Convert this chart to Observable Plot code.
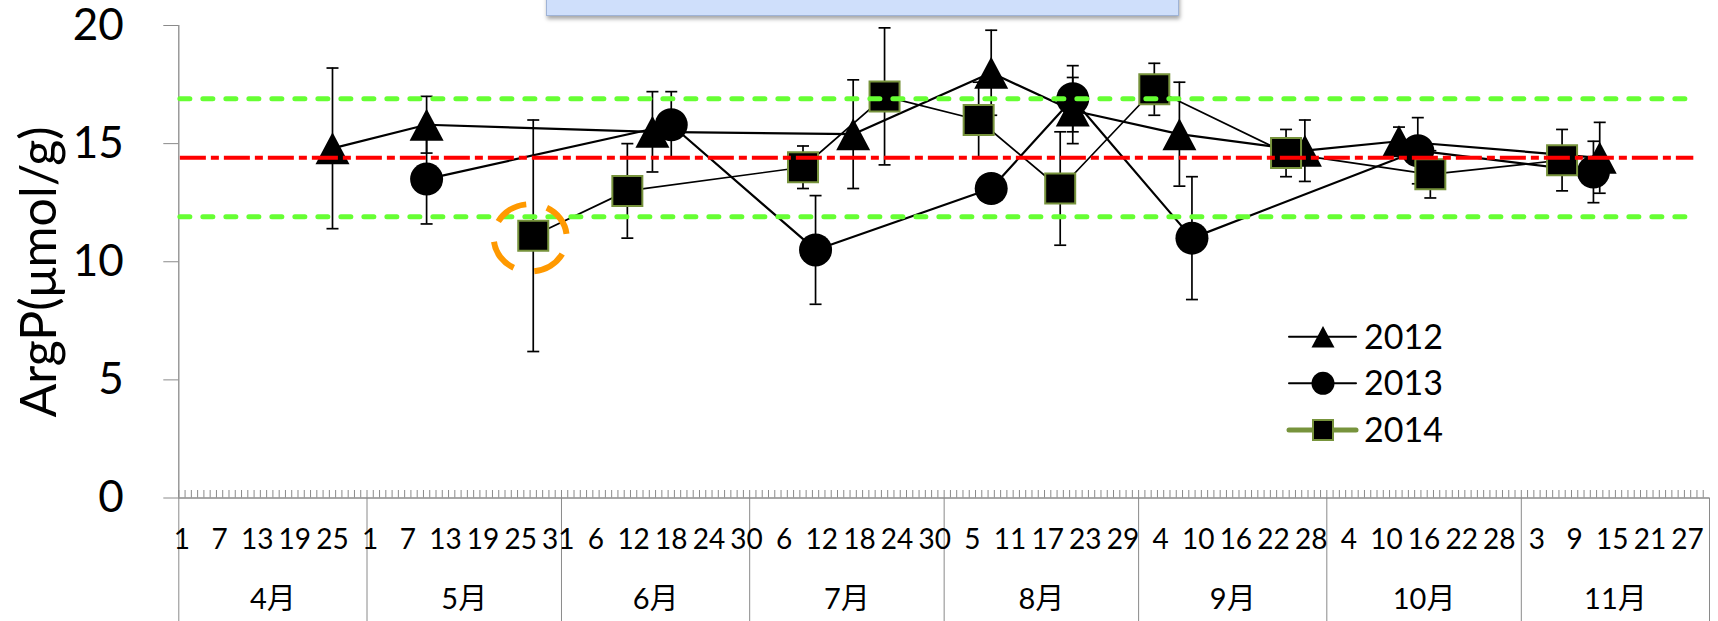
<!DOCTYPE html>
<html>
<head>
<meta charset="utf-8">
<script src="https://cdn.jsdelivr.net/npm/d3@7"></script>
<script src="https://cdn.jsdelivr.net/npm/@observablehq/plot@0.6"></script>
<style>
  body { margin: 0; background: #fff; }
  #wrap { position: relative; width: 1718px; height: 621px; overflow: hidden; background: #fff;
          font-family: Lato, "Noto Sans CJK JP", sans-serif; }
  #chart { position: absolute; left: 0; top: 0; }
  #titlebox { position: absolute; left: 546px; top: -30px; width: 631px; height: 44px;
              background: #cfdffb; border: 1px solid #9fb3d6;
              box-shadow: 1px 3px 4px rgba(0,0,0,0.35); }
  #overlay { position: absolute; left: 0; top: 0; }
</style>
</head>
<body>
<div id="wrap">
  <div id="chart"></div>
  <svg id="overlay" width="1718" height="621"></svg>
  <div id="titlebox"></div>
</div>
<script>
// ---- data: sampling dates (month-day), means and standard deviations ----
const seriesNames = ["2012", "2013", "2014"];

const dates2012 = ["04-25", "05-10", "06-15", "07-17", "08-08", "08-21", "09-07", "09-27", "10-12", "11-13"];
const mean2012  = [14.8, 15.8, 15.5, 15.4, 18.0, 16.4, 15.4, 14.7, 15.1, 14.4];
const sd2012    = [3.4, 1.2, 1.7, 2.3, 1.8, 1.4, 2.2, 1.3, 0.6, 1.5];

const dates2013 = ["05-10", "06-18", "07-11", "08-08", "08-21", "09-09", "10-15", "11-12"];
const mean2013  = [13.5, 15.8, 10.5, 13.1, 16.9, 11.0, 14.7, 13.8];
const sd2013    = [1.9, 1.4, 2.3, 0.6, 1.4, 2.6, 1.4, 1.3];

const dates2014 = ["05-27", "06-11", "07-09", "07-22", "08-06", "08-19", "09-03", "09-24", "10-17", "11-07"];
const mean2014  = [11.1, 13.0, 14.0, 17.0, 16.0, 13.1, 17.3, 14.6, 13.7, 14.3];
const sd2014    = [4.9, 2.0, 0.9, 2.9, 1.6, 2.4, 1.1, 1.0, 1.0, 1.3];

// overall mean and the ± band drawn as dashed reference lines
const overallMean = 14.4;
const bandLines = [11.9, 16.9];
const refLineSpan = ["04-01", "11-28"];

// flagged sample (2014, first sampling)
const flagged = { series: "2014", date: "05-27" };

// axis labels
const yTicks = [0, 5, 10, 15, 20];
const yLabel = "ArgP(μmol/g)";
const monthStarts = ["04-01", "05-01", "06-01", "07-01", "08-01", "09-01", "10-01", "11-01", "12-01"];
const monthNames  = ["4月", "5月", "6月", "7月", "8月", "9月", "10月", "11月"];
const dayTicks = [
  "04-01", "04-07", "04-13", "04-19", "04-25",
  "05-01", "05-07", "05-13", "05-19", "05-25", "05-31",
  "06-06", "06-12", "06-18", "06-24", "06-30",
  "07-06", "07-12", "07-18", "07-24", "07-30",
  "08-05", "08-11", "08-17", "08-23", "08-29",
  "09-04", "09-10", "09-16", "09-22", "09-28",
  "10-04", "10-10", "10-16", "10-22", "10-28",
  "11-03", "11-09", "11-15", "11-21", "11-27"
];

// ---- helpers ----
const YEAR = 2001; // all seasons share one Apr–Nov calendar axis
const toDate = (md, hour = 0) => new Date(Date.UTC(YEAR, +md.slice(0, 2) - 1, +md.slice(3), hour));

function rows(name, dates, means, sds) {
  return dates.map((d, i) => ({
    series: name, md: d, date: toDate(d, 12), value: means[i], sd: sds[i],
    lo: means[i] - sds[i], hi: means[i] + sds[i]
  }));
}
const r2012 = rows("2012", dates2012, mean2012, sd2012);
const r2013 = rows("2013", dates2013, mean2013, sd2013);
const r2014 = rows("2014", dates2014, mean2014, sd2014);
const allRows = [...r2012, ...r2013, ...r2014];
const flaggedRow = allRows.filter(d => d.series === flagged.series && d.md === flagged.date);

// marker shapes
const rad = size => Math.sqrt(size / Math.PI);
const triangleSym = { draw(ctx, size) { const r = rad(size), h = r * 0.94;
  ctx.moveTo(0, -h); ctx.lineTo(r, h); ctx.lineTo(-r, h); ctx.closePath(); } };
const circleSym = { draw(ctx, size) { const r = rad(size);
  ctx.moveTo(r, 0); ctx.arc(0, 0, r, 0, 2 * Math.PI); ctx.closePath(); } };
const squareSym = { draw(ctx, size) { const r = rad(size); ctx.rect(-r, -r, 2 * r, 2 * r); } };
const capSym = { draw(ctx, size) { const r = rad(size); ctx.moveTo(-r, 0); ctx.lineTo(r, 0); } };
const ellipseSym = { draw(ctx, size) {
  const rx = rad(size), ry = rx * 0.92, k = 0.5523;
  ctx.moveTo(rx, 0);
  ctx.bezierCurveTo(rx, k * ry, k * rx, ry, 0, ry);
  ctx.bezierCurveTo(-k * rx, ry, -rx, k * ry, -rx, 0);
  ctx.bezierCurveTo(-rx, -k * ry, -k * rx, -ry, 0, -ry);
  ctx.bezierCurveTo(k * rx, -ry, rx, -k * ry, rx, 0);
  ctx.closePath();
} };

const axisGray = "#8a8a8a";
const olive = "#77933c";
const fontStack = 'Lato, "Noto Sans CJK JP", sans-serif';
const W = 1718, H = 621;
const mTop = 25, mBottom = 123.5, mLeft = 178.3, mRight = 9;
const frameH = H - mTop - mBottom;

const xStart = toDate(monthStarts[0]);
const xEnd = toDate(monthStarts[monthStarts.length - 1]);
const monthStartDates = monthStarts.map(d => toDate(d));
const monthMid = monthNames.map((n, i) =>
  new Date((+monthStartDates[i] + +monthStartDates[i + 1]) / 2));
const monthLabelByTime = new Map(monthMid.map((d, i) => [+d, monthNames[i]]));
const dayTickDates = dayTicks.map(d => toDate(d, 12));
const everyDay = d3.utcDay.range(xStart, xEnd);
const refX1 = toDate(refLineSpan[0], 6), refX2 = toDate(refLineSpan[1], 12);

const chart = Plot.plot({
  width: W, height: H,
  marginTop: mTop, marginBottom: mBottom, marginLeft: mLeft, marginRight: mRight,
  style: { fontFamily: fontStack, color: "black", background: "white", overflow: "visible" },
  x: { type: "utc", domain: [xStart, xEnd] },
  y: { domain: [0, 20] },
  marks: [
    // axes frame lines and minor day ticks
    Plot.ruleX(everyDay, { insetTop: frameH - 7.5, stroke: axisGray, strokeWidth: 1 }),
    Plot.ruleY([0], { stroke: axisGray, strokeWidth: 1.3 }),
    Plot.ruleX([xStart], { stroke: axisGray, strokeWidth: 1.3 }),
    Plot.axisY(yTicks, { tickSize: 15, tickPadding: 40, fontSize: 44, stroke: axisGray,
      tickFormat: d => String(d), label: null }),
    Plot.axisX(monthStartDates, { tickSize: 124, tickPadding: 0, stroke: axisGray,
      tickFormat: () => "", label: null }),
    Plot.axisX(dayTickDates, { tickSize: 0, tickPadding: 31, fontSize: 28,
      tickFormat: d => String(d.getUTCDate()), label: null }),
    Plot.axisX(monthMid, { tickSize: 0, tickPadding: 90, fontSize: 29,
      tickFormat: d => monthLabelByTime.get(+d), label: null }),

    // error bars (mean ± SD)
    Plot.ruleX(allRows, { x: "date", y1: "lo", y2: "hi", stroke: "black", strokeWidth: 1.7 }),
    Plot.dot(allRows, { x: "date", y: "hi", symbol: capSym, r: 6, stroke: "black", strokeWidth: 1.7, fill: "none" }),
    Plot.dot(allRows, { x: "date", y: "lo", symbol: capSym, r: 6, stroke: "black", strokeWidth: 1.7, fill: "none" }),

    // series lines
    Plot.line(r2012, { x: "date", y: "value", stroke: "black", strokeWidth: 2.2 }),
    Plot.line(r2013, { x: "date", y: "value", stroke: "black", strokeWidth: 2.2 }),
    Plot.line(r2014, { x: "date", y: "value", stroke: "black", strokeWidth: 1.7 }),

    // markers
    Plot.dot(r2012, { x: "date", y: "value", symbol: triangleSym, r: 17, fill: "black", stroke: "none" }),
    Plot.dot(r2013, { x: "date", y: "value", symbol: circleSym, r: 16.5, fill: "black", stroke: "none" }),
    Plot.dot(r2014, { x: "date", y: "value", symbol: squareSym, r: 15, fill: "black", stroke: olive, strokeWidth: 2 }),

    // reference lines: mean and band
    Plot.ruleY(bandLines, { x1: () => refX1, x2: () => refX2, stroke: "#66ff33", strokeWidth: 5,
      strokeDasharray: "10,13", strokeLinecap: "round" }),
    Plot.ruleY([overallMean], { x1: () => refX1, x2: () => refX2, stroke: "#ff0000", strokeWidth: 4,
      strokeDasharray: "26,5,8,5" }),

    // flagged sample
    Plot.dot(flaggedRow, { x: "date", y: "value", symbol: ellipseSym, r: 36.5, dx: -3, dy: 2,
      fill: "none", stroke: "#ff9900", strokeWidth: 6, strokeDasharray: "34,21", strokeDashoffset: 38 })
  ]
});
document.getElementById("chart").appendChild(chart);

const overlay = d3.select("#overlay");

// ---- y-axis title ----
overlay.append("text")
  .attr("transform", "translate(37,272) rotate(-90)")
  .attr("text-anchor", "middle").attr("dominant-baseline", "central")
  .attr("font-size", 50).attr("font-family", fontStack).attr("fill", "black")
  .text(yLabel);

// ---- legend ----
const legendSymbols = [
  { sym: triangleSym, r: 11.5, line: "black", lw: 2, stroke: "none" },
  { sym: circleSym, r: 11.5, line: "black", lw: 2, stroke: "none" },
  { sym: squareSym, r: 10, line: olive, lw: 5, stroke: olive }
];
const legendRowY = [336.7, 383.3, 430];
seriesNames.forEach((name, i) => {
  const s = legendSymbols[i], y = legendRowY[i];
  const g = overlay.append("g");
  g.append("line").attr("x1", 1289).attr("x2", 1356).attr("y1", y).attr("y2", y)
    .attr("stroke", s.line).attr("stroke-width", s.lw).attr("stroke-linecap", "round");
  g.append("path").attr("transform", `translate(1323,${y})`)
    .attr("d", d3.symbol(s.sym, Math.PI * s.r * s.r)())
    .attr("fill", "black").attr("stroke", s.stroke).attr("stroke-width", 2);
  g.append("text").attr("x", 1364).attr("y", y + 12)
    .attr("font-size", 34).attr("font-family", fontStack)
    .attr("fill", "black").text(name);
});
</script>
</body>
</html>
